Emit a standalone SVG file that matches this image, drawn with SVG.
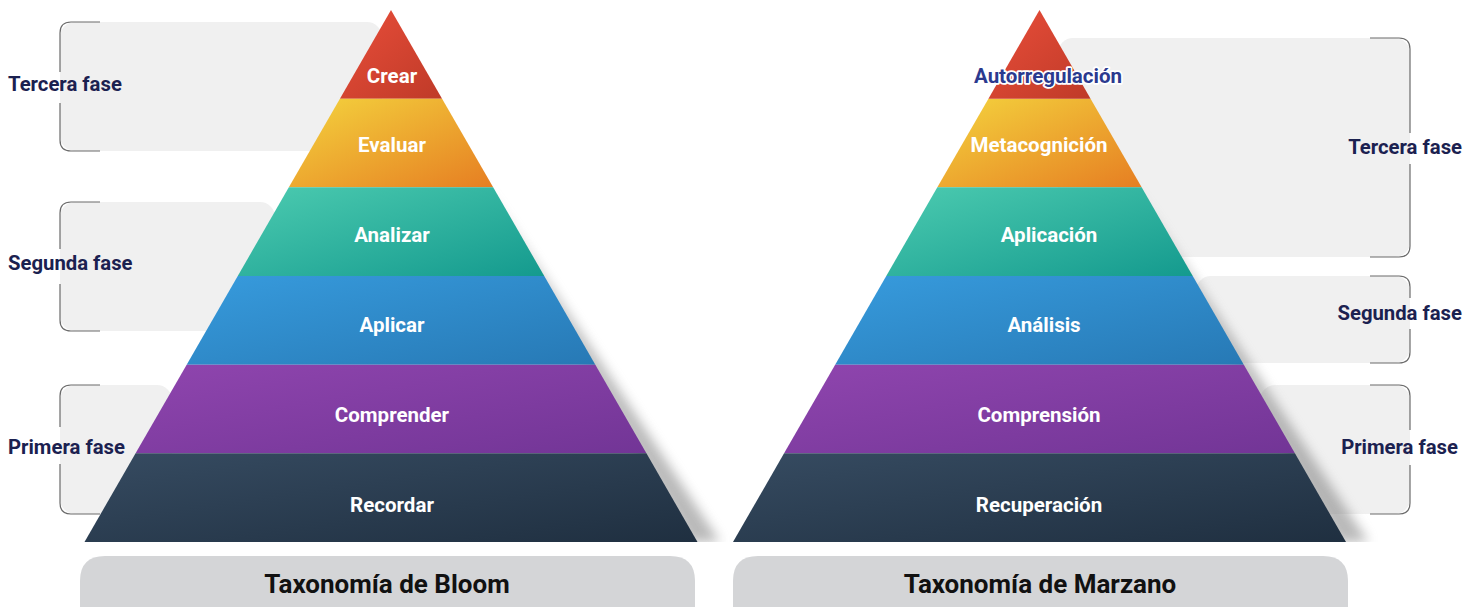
<svg xmlns="http://www.w3.org/2000/svg" width="1481" height="607" viewBox="0 0 1481 607">
<style>
.box{fill:#F0F0F0}
.br{fill:none;stroke:#6b6b6b;stroke-width:1.2}
.ph{font-family:Roboto,"Liberation Sans",sans-serif;font-weight:bold;font-size:20.3px;fill:#1B2150}
.lv{font-family:Roboto,"Liberation Sans",sans-serif;font-weight:bold;font-size:20.5px;fill:#fff;text-anchor:middle}
.ttl{font-family:Roboto,"Liberation Sans",sans-serif;font-weight:bold;font-size:26px;fill:#111;text-anchor:middle}
.tb{fill:#D4D5D7}
</style>
<defs>
<linearGradient id="gRed" x1="0" y1="0" x2="1" y2="1"><stop offset="0" stop-color="#E94E3A"/><stop offset="1" stop-color="#BF3A28"/></linearGradient>
<linearGradient id="gYel" x1="0" y1="0" x2="1" y2="1"><stop offset="0" stop-color="#F4D43E"/><stop offset="1" stop-color="#E67E22"/></linearGradient>
<linearGradient id="gTeal" x1="0" y1="0" x2="1" y2="1"><stop offset="0" stop-color="#4CCBB0"/><stop offset="1" stop-color="#149A8E"/></linearGradient>
<linearGradient id="gBlue" x1="0" y1="0" x2="1" y2="1"><stop offset="0" stop-color="#379BDD"/><stop offset="1" stop-color="#2779B5"/></linearGradient>
<linearGradient id="gPur" x1="0" y1="0" x2="1" y2="1"><stop offset="0" stop-color="#8F45AE"/><stop offset="1" stop-color="#723596"/></linearGradient>
<linearGradient id="gDark" x1="0" y1="0" x2="1" y2="1"><stop offset="0" stop-color="#364B61"/><stop offset="1" stop-color="#1F2F40"/></linearGradient>
<filter id="blur" x="-20%" y="-20%" width="140%" height="140%"><feGaussianBlur stdDeviation="6"/></filter>
<clipPath id="clipTop"><rect x="0" y="0" width="1481" height="542"/></clipPath>
</defs>

<!-- left phase boxes -->
<g id="bloom-tercera-box">
<rect class="box" x="60" y="22" width="322" height="129" rx="15"/>
<path class="br" d="M100,22 H71 Q60,22 60,33 V72 M60,103 V140 Q60,151 71,151 H100"/>
</g>
<g id="bloom-segunda-box">
<rect class="box" x="60" y="202" width="215" height="129" rx="15"/>
<path class="br" d="M100,202 H71 Q60,202 60,213 V249 M60,284 V320 Q60,331 71,331 H100"/>
</g>
<g id="bloom-primera-box">
<rect class="box" x="60" y="385" width="112" height="129" rx="15"/>
<path class="br" d="M100,385 H71 Q60,385 60,396 V427 M60,464 V503 Q60,514 71,514 H100"/>
</g>

<!-- right phase boxes -->
<g id="marzano-tercera-box">
<rect class="box" x="1058" y="38" width="352" height="219" rx="15"/>
<path class="br" d="M1370,38 H1399 Q1410,38 1410,49 V133 M1410,164 V246 Q1410,257 1399,257 H1370"/>
</g>
<g id="marzano-segunda-box">
<rect class="box" x="1196" y="276" width="214" height="87" rx="15"/>
<path class="br" d="M1370,276 H1399 Q1410,276 1410,287 V298 M1410,329 V352 Q1410,363 1399,363 H1370"/>
</g>
<g id="marzano-primera-box">
<rect class="box" x="1260" y="385" width="150" height="129" rx="15"/>
<path class="br" d="M1370,385 H1399 Q1410,385 1410,396 V430 M1410,465 V503 Q1410,514 1399,514 H1370"/>
</g>

<!-- shadows -->
<g clip-path="url(#clipTop)">
<polygon points="480,180 690,542 720,542" fill="#808080" opacity="0.55" filter="url(#blur)"/>
<polygon points="1128.5,180 1338.5,542 1368.5,542" fill="#808080" opacity="0.55" filter="url(#blur)"/>
</g>

<!-- Bloom pyramid -->
<g id="bloom-pyramid">
<g id="bloom-crear"><polygon fill="url(#gRed)" points="391,10 442.08,98.7 339.92,98.7"/><text class="lv" x="392" y="83">Crear</text></g>
<g id="bloom-evaluar"><polygon fill="url(#gYel)" points="339.92,98.7 442.08,98.7 493.16,187.3 288.84,187.3"/><text class="lv" x="392" y="151.5">Evaluar</text></g>
<g id="bloom-analizar"><polygon fill="url(#gTeal)" points="288.84,187.3 493.16,187.3 544.25,276 237.75,276"/><text class="lv" x="392" y="241.5">Analizar</text></g>
<g id="bloom-aplicar"><polygon fill="url(#gBlue)" points="237.75,276 544.25,276 595.33,364.7 186.67,364.7"/><text class="lv" x="392" y="331.5">Aplicar</text></g>
<g id="bloom-comprender"><polygon fill="url(#gPur)" points="186.67,364.7 595.33,364.7 646.42,453.3 135.58,453.3"/><text class="lv" x="392" y="421.5">Comprender</text></g>
<g id="bloom-recordar"><polygon fill="url(#gDark)" points="135.58,453.3 646.42,453.3 697.5,542 84.5,542"/><text class="lv" x="392" y="511.5">Recordar</text></g>
</g>

<!-- Marzano pyramid -->
<g id="marzano-pyramid">
<g id="marzano-metacognicion"><polygon fill="url(#gYel)" points="988.42,98.7 1090.58,98.7 1141.66,187.3 937.34,187.3"/><text class="lv" x="1039" y="151.5">Metacognición</text></g>
<g id="marzano-aplicacion"><polygon fill="url(#gTeal)" points="937.34,187.3 1141.66,187.3 1192.75,276 886.25,276"/><text class="lv" x="1049" y="241.5">Aplicación</text></g>
<g id="marzano-analisis"><polygon fill="url(#gBlue)" points="886.25,276 1192.75,276 1243.83,364.7 835.17,364.7"/><text class="lv" x="1044" y="331.5">Análisis</text></g>
<g id="marzano-comprension"><polygon fill="url(#gPur)" points="835.17,364.7 1243.83,364.7 1294.92,453.3 784.08,453.3"/><text class="lv" x="1039" y="421.5">Comprensión</text></g>
<g id="marzano-recuperacion"><polygon fill="url(#gDark)" points="784.08,453.3 1294.92,453.3 1346,542 733,542"/><text class="lv" x="1039" y="511.5">Recuperación</text></g>
<g id="marzano-autorregulacion"><polygon fill="url(#gRed)" points="1039.5,10 1090.58,98.7 988.42,98.7"/><text class="lv" x="1048" y="83" style="fill:#2B3A8F;stroke:#fff;stroke-width:3.5;stroke-linejoin:round;paint-order:stroke">Autorregulación</text></g>
</g>

<!-- phase labels -->
<g id="labels-left">
<text class="ph" x="8" y="91">Tercera fase</text>
<text class="ph" x="8" y="270">Segunda fase</text>
<text class="ph" x="8" y="454">Primera fase</text>
</g>
<g id="labels-right">
<text class="ph" x="1462" y="154" text-anchor="end">Tercera fase</text>
<text class="ph" x="1462" y="320" text-anchor="end">Segunda fase</text>
<text class="ph" x="1458" y="454" text-anchor="end">Primera fase</text>
</g>

<!-- titles -->
<g id="title-bloom">
<path class="tb" d="M80,620 V581 Q80,556 105,556 H670 Q695,556 695,581 V620 Z"/>
<text class="ttl" x="387" y="593">Taxonomía de Bloom</text>
</g>
<g id="title-marzano">
<path class="tb" d="M733,620 V581 Q733,556 758,556 H1323 Q1348,556 1348,581 V620 Z"/>
<text class="ttl" x="1040" y="593">Taxonomía de Marzano</text>
</g>
</svg>
